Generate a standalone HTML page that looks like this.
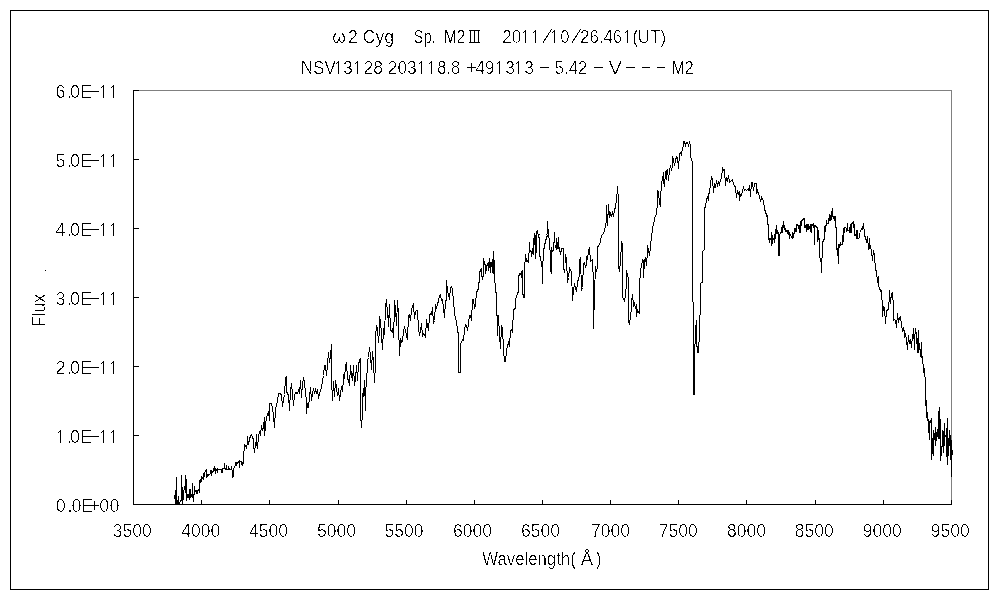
<!DOCTYPE html>
<html><head><meta charset="utf-8"><title>Spectrum</title>
<style>
html,body{margin:0;padding:0;background:#fff;}
body{width:1000px;height:600px;overflow:hidden;font-family:"Liberation Sans",sans-serif;}
svg{display:block;}
svg text{font-family:"Liberation Sans",sans-serif;font-size:18px;fill:#000;stroke:#fff;stroke-width:0.15px;}
</style></head><body>
<svg width="1000" height="600" viewBox="0 0 1000 600">
<rect x="0" y="0" width="1000" height="600" fill="#fff"/>
<g shape-rendering="crispEdges" fill="none" stroke-width="1">
<rect x="10.5" y="10.5" width="978" height="579" stroke="#000"/>
<path d="M133 90.5H951.5V504" stroke="#808080"/>
<path d="M133.5 90V504.5H952" stroke="#000"/>
<path d="M133 435.5H139M133 366.5H139M133 297.5H139M133 228.5H139M133 159.5H139M133 90.5H139M201.5 500V504M269.5 500V504M338.5 500V504M406.5 500V504M474.5 500V504M542.5 500V504M610.5 500V504M678.5 500V504M746.5 500V504M815.5 500V504M883.5 500V504M951.5 500V504" stroke="#000"/>
</g>
<clipPath id="cp"><path clip-rule="evenodd" d="M0 0H1000V600H0ZM465 235H565V295H465ZM760 215H860V275H760Z"/></clipPath>
<polyline clip-path="url(#cp)" shape-rendering="crispEdges" fill="none" stroke="#000" stroke-width="1" stroke-linejoin="miter" points="243.5,457.5 244.5,444.5 245.5,445.5 246.5,448.5 247.5,441.5 247.5,436.5 248.5,444.5 249.5,439.5 250.5,435.5 251.5,434.5 252.5,437.5 253.5,439.5 253.5,445.5 254.5,452.5 255.5,443.5 256.5,445.5 256.5,434.5 257.5,448.5 258.5,436.5 259.5,431.5 260.5,432.5 260.5,435.5 261.5,425.5 262.5,430.5 263.5,426.5 263.5,427.5 264.5,417.5 264.5,435.5 265.5,426.5 266.5,416.5 267.5,415.5 268.5,411.5 269.5,420.5 269.5,403.5 271.5,403.5 272.5,408.5 273.5,415.5 274.5,427.5 275.5,408.5 276.5,405.5 277.5,400.5 278.5,393.5 280.5,393.5 281.5,395.5 282.5,406.5 283.5,400.5 284.5,394.5 285.5,378.5 286.5,376.5 286.5,391.5 288.5,395.5 289.5,410.5 290.5,390.5 291.5,383.5 293.5,405.5 294.5,395.5 295.5,392.5 297.5,393.5 298.5,390.5 299.5,393.5 300.5,380.5 301.5,397.5 302.5,383.5 303.5,378.5 304.5,381.5 305.5,393.5 306.5,400.5 306.5,413.5 307.5,403.5 308.5,407.5 309.5,396.5 310.5,387.5 311.5,400.5 313.5,388.5 314.5,393.5 315.5,389.5 316.5,392.5 317.5,389.5 318.5,398.5 319.5,393.5 320.5,390.5 321.5,387.5 322.5,380.5 323.5,375.5 324.5,365.5 325.5,365.5 326.5,375.5 327.5,364.5 328.5,352.5 329.5,362.5 330.5,355.5 331.5,344.5 331.5,378.5 332.5,400.5 333.5,381.5 334.5,396.5 335.5,380.5 336.5,387.5 337.5,395.5 338.5,388.5 339.5,400.5 340.5,393.5 341.5,386.5 342.5,391.5 343.5,378.5 343.5,374.5 344.5,378.5 345.5,365.5 346.5,363.5 347.5,378.5 348.5,380.5 349.5,385.5 350.5,365.5 351.5,375.5 352.5,380.5 353.5,365.5 354.5,385.5 355.5,378.5 356.5,365.5 357.5,380.5 358.5,364.5 359.5,360.5 360.5,358.5 360.5,413.5 361.5,427.5 362.5,413.5 362.5,393.5 363.5,395.5 364.5,380.5 365.5,410.5 365.5,387.5 366.5,386.5 367.5,360.5 368.5,357.5 369.5,347.5 370.5,355.5 371.5,369.5 372.5,351.5 373.5,362.5 374.5,382.5 375.5,363.5 375.5,336.5 376.5,325.5 377.5,328.5 378.5,342.5 379.5,330.5 379.5,316.5 380.5,320.5 381.5,335.5 382.5,349.5 383.5,328.5 384.5,334.5 385.5,307.5 386.5,299.5 387.5,314.5 388.5,321.5 388.5,326.5 389.5,304.5 390.5,330.5 391.5,331.5 392.5,328.5 393.5,337.5 394.5,307.5 394.5,300.5 395.5,308.5 396.5,325.5 397.5,300.5 398.5,315.5 398.5,324.5 399.5,355.5 400.5,338.5 401.5,342.5 402.5,341.5 403.5,330.5 404.5,327.5 405.5,330.5 406.5,335.5 407.5,339.5 408.5,315.5 409.5,314.5 410.5,320.5 411.5,309.5 412.5,306.5 413.5,304.5 414.5,318.5 415.5,311.5 416.5,310.5 417.5,310.5 418.5,328.5 419.5,335.5 420.5,330.5 421.5,323.5 422.5,335.5 423.5,333.5 424.5,334.5 425.5,337.5 426.5,319.5 427.5,325.5 428.5,330.5 429.5,315.5 430.5,313.5 431.5,314.5 432.5,307.5 433.5,323.5 434.5,320.5 435.5,304.5 436.5,308.5 437.5,303.5 438.5,301.5 439.5,295.5 440.5,294.5 441.5,300.5 442.5,299.5 443.5,307.5 444.5,317.5 445.5,300.5 446.5,300.5 446.5,280.5 447.5,291.5 448.5,294.5 449.5,299.5 450.5,287.5 451.5,286.5 452.5,289.5 453.5,301.5 454.5,311.5 455.5,319.5 456.5,320.5 457.5,331.5 458.5,333.5 458.5,372.5 460.5,372.5 460.5,343.5 461.5,342.5 462.5,339.5 463.5,340.5 464.5,330.5 465.5,324.5 466.5,325.5 467.5,330.5 468.5,323.5 469.5,315.5 470.5,315.5 471.5,320.5 472.5,299.5 473.5,299.5 474.5,308.5 475.5,304.5 476.5,291.5 477.5,290.5 478.5,282.5 479.5,271.5 480.5,269.5 481.5,268.5 482.5,279.5 482.5,273.5 483.5,258.5 484.5,263.5 485.5,273.5 486.5,265.5 487.5,267.5 488.5,262.5 489.5,258.5 490.5,271.5 491.5,261.5 492.5,272.5 493.5,251.5 494.5,273.5 495.5,283.5 496.5,295.5 497.5,335.5 497.5,315.5 498.5,315.5 499.5,335.5 500.5,348.5 501.5,325.5 502.5,328.5 503.5,349.5 504.5,361.5 505.5,361.5 506.5,351.5 507.5,345.5 508.5,342.5 509.5,346.5 510.5,330.5 511.5,329.5 512.5,331.5 513.5,309.5 515.5,308.5 515.5,299.5 516.5,296.5 517.5,291.5 518.5,275.5 519.5,274.5 520.5,273.5 521.5,276.5 522.5,270.5 523.5,297.5 524.5,297.5 524.5,262.5 525.5,254.5 526.5,261.5 527.5,259.5 528.5,262.5 529.5,242.5 530.5,251.5 531.5,250.5 531.5,255.5 532.5,249.5 533.5,237.5 534.5,233.5 535.5,258.5 536.5,231.5 537.5,230.5 538.5,237.5 539.5,235.5 540.5,256.5 541.5,261.5 542.5,283.5 543.5,258.5 544.5,249.5 545.5,243.5 546.5,237.5 547.5,230.5 547.5,221.5 548.5,235.5 549.5,239.5 550.5,251.5 551.5,273.5 551.5,250.5 552.5,250.5 553.5,243.5 554.5,232.5 555.5,247.5 556.5,238.5 557.5,249.5 558.5,237.5 559.5,250.5 560.5,254.5 561.5,248.5 562.5,248.5 563.5,268.5 564.5,272.5 565.5,254.5 566.5,258.5 567.5,282.5 568.5,277.5 569.5,268.5 570.5,270.5 571.5,271.5 572.5,300.5 573.5,290.5 574.5,283.5 575.5,288.5 576.5,291.5 577.5,282.5 578.5,278.5 579.5,275.5 579.5,260.5 580.5,257.5 581.5,290.5 582.5,287.5 583.5,263.5 584.5,262.5 585.5,267.5 586.5,263.5 586.5,256.5 587.5,259.5 588.5,250.5 589.5,248.5 590.5,261.5 591.5,260.5 592.5,259.5 593.5,283.5 593.5,328.5 594.5,293.5 595.5,266.5 596.5,271.5 597.5,266.5 597.5,247.5 598.5,245.5 599.5,244.5 600.5,241.5 601.5,235.5 603.5,233.5 604.5,230.5 605.5,225.5 606.5,220.5 606.5,205.5 607.5,221.5 607.5,225.5 608.5,204.5 609.5,217.5 610.5,213.5 611.5,215.5 612.5,212.5 613.5,216.5 614.5,210.5 615.5,206.5 616.5,199.5 616.5,201.5 617.5,186.5 618.5,201.5 618.5,194.5 618.5,230.5 618.5,266.5 619.5,271.5 620.5,261.5 621.5,242.5 622.5,244.5 622.5,297.5 623.5,298.5 624.5,300.5 625.5,295.5 626.5,283.5 626.5,270.5 627.5,275.5 628.5,278.5 628.5,320.5 629.5,324.5 630.5,316.5 631.5,308.5 631.5,301.5 632.5,294.5 633.5,305.5 634.5,303.5 635.5,308.5 636.5,304.5 636.5,316.5 637.5,309.5 638.5,312.5 639.5,313.5 639.5,288.5 640.5,268.5 641.5,267.5 642.5,259.5 643.5,260.5 643.5,277.5 644.5,260.5 645.5,258.5 646.5,265.5 647.5,251.5 647.5,245.5 648.5,250.5 649.5,255.5 650.5,246.5 651.5,236.5 652.5,230.5 652.5,226.5 653.5,225.5 654.5,218.5 655.5,215.5 656.5,214.5 657.5,201.5 657.5,190.5 658.5,191.5 659.5,203.5 660.5,206.5 660.5,201.5 661.5,181.5 662.5,180.5 663.5,172.5 663.5,180.5 664.5,186.5 665.5,171.5 666.5,179.5 666.5,170.5 667.5,169.5 668.5,180.5 669.5,170.5 670.5,165.5 671.5,170.5 672.5,165.5 672.5,156.5 673.5,160.5 674.5,165.5 675.5,160.5 676.5,156.5 677.5,157.5 678.5,168.5 679.5,153.5 680.5,152.5 681.5,155.5 682.5,147.5 683.5,146.5 683.5,141.5 684.5,141.5 685.5,145.5 686.5,142.5 687.5,142.5 688.5,145.5 689.5,142.5 690.5,145.5 690.5,155.5 691.5,160.5 692.5,161.5 692.5,301.5 693.5,302.5 693.5,394.5 694.5,394.5 694.5,344.5 695.5,343.5 695.5,329.5 696.5,320.5 696.5,346.5 697.5,346.5 697.5,352.5 698.5,352.5 698.5,342.5 699.5,341.5 699.5,315.5 700.5,314.5 700.5,283.5 701.5,282.5 702.5,282.5 702.5,251.5 703.5,250.5 704.5,249.5 704.5,230.5 704.5,208.5 705.5,206.5 706.5,200.5 707.5,196.5 708.5,200.5 708.5,193.5 709.5,193.5 710.5,183.5 711.5,177.5 712.5,179.5 713.5,192.5 714.5,183.5 715.5,187.5 716.5,180.5 717.5,185.5 718.5,182.5 719.5,184.5 720.5,179.5 721.5,178.5 722.5,168.5 723.5,170.5 724.5,169.5 725.5,185.5 726.5,177.5 727.5,180.5 728.5,175.5 729.5,182.5 730.5,181.5 731.5,180.5 732.5,179.5 733.5,184.5 734.5,185.5 735.5,187.5 736.5,197.5 737.5,190.5 738.5,193.5 739.5,191.5 739.5,200.5 740.5,194.5 741.5,195.5 742.5,190.5 743.5,187.5 744.5,190.5 745.5,189.5 746.5,190.5 747.5,189.5 748.5,190.5 749.5,185.5 750.5,196.5 751.5,182.5 752.5,182.5 753.5,190.5 754.5,183.5 755.5,183.5 756.5,183.5 756.5,193.5 757.5,190.5 758.5,194.5 759.5,195.5 760.5,201.5 761.5,197.5 762.5,199.5 763.5,200.5 764.5,209.5 765.5,211.5 766.5,215.5 767.5,217.5 768.5,225.5 769.5,240.5 770.5,242.5 771.5,232.5 771.5,245.5 772.5,233.5 773.5,243.5 774.5,240.5 775.5,230.5 776.5,225.5 777.5,231.5 778.5,235.5 778.5,256.5 779.5,256.5 779.5,233.5 780.5,232.5 781.5,226.5 782.5,229.5 783.5,221.5 784.5,226.5 785.5,228.5 786.5,231.5 787.5,230.5 788.5,235.5 789.5,233.5 790.5,238.5 791.5,232.5 792.5,237.5 793.5,235.5 794.5,230.5 795.5,228.5 796.5,231.5 797.5,225.5 798.5,224.5 799.5,226.5 800.5,232.5 801.5,221.5 802.5,220.5 803.5,218.5 804.5,218.5 805.5,225.5 806.5,225.5 806.5,231.5 807.5,225.5 808.5,228.5 809.5,224.5 810.5,231.5 811.5,224.5 812.5,223.5 813.5,224.5 814.5,245.5 815.5,225.5 816.5,226.5 817.5,242.5 818.5,238.5 819.5,240.5 820.5,241.5 820.5,258.5 821.5,258.5 821.5,272.5 822.5,258.5 822.5,242.5 822.5,240.5 823.5,236.5 824.5,227.5 825.5,225.5 826.5,220.5 827.5,223.5 828.5,219.5 829.5,214.5 830.5,220.5 831.5,213.5 832.5,208.5 833.5,220.5 834.5,215.5 835.5,216.5 836.5,226.5 836.5,233.5 837.5,250.5 838.5,250.5 838.5,263.5 838.5,246.5 839.5,245.5 840.5,242.5 841.5,243.5 842.5,237.5 843.5,229.5 844.5,227.5 845.5,228.5 846.5,230.5 847.5,223.5 848.5,231.5 849.5,224.5 850.5,232.5 851.5,222.5 852.5,223.5 853.5,221.5 854.5,235.5 855.5,230.5 856.5,238.5 857.5,230.5 858.5,238.5 859.5,230.5 860.5,231.5 861.5,228.5 862.5,229.5 863.5,223.5 864.5,234.5 865.5,238.5 866.5,241.5 867.5,236.5 868.5,249.5 869.5,238.5 869.5,248.5 870.5,245.5 871.5,251.5 872.5,260.5 873.5,250.5 874.5,255.5 875.5,270.5 876.5,270.5 877.5,282.5 878.5,276.5 878.5,286.5 879.5,287.5 880.5,291.5 881.5,290.5 882.5,308.5 882.5,316.5 883.5,306.5 884.5,307.5 885.5,323.5 886.5,310.5 887.5,310.5 888.5,308.5 889.5,295.5 889.5,290.5 890.5,303.5 891.5,293.5 892.5,292.5 893.5,306.5 893.5,320.5 894.5,319.5 895.5,320.5 896.5,327.5 897.5,313.5 898.5,322.5 899.5,317.5 900.5,316.5 901.5,325.5 902.5,330.5 903.5,327.5 904.5,333.5 904.5,337.5 905.5,334.5 906.5,339.5 907.5,349.5 908.5,335.5 909.5,343.5 910.5,339.5 911.5,347.5 912.5,335.5 913.5,337.5 913.5,328.5 914.5,349.5 914.5,340.5 915.5,328.5 916.5,335.5 917.5,352.5 917.5,345.5 918.5,330.5 918.5,352.5 919.5,343.5 920.5,356.5 921.5,342.5 921.5,357.5 922.5,356.5 923.5,371.5 924.5,369.5 925.5,383.5 925.5,405.5"/>
<path shape-rendering="crispEdges" fill="none" stroke="#000" stroke-width="1" d="M476.5 291V295M477.5 289V292M478.5 282V290M479.5 271V283M480.5 269V272M481.5 268V277M482.5 276V280M483.5 258V277M484.5 261V265M485.5 264V274M486.5 265V271M487.5 263V266M488.5 262V271M489.5 258V268M490.5 262V273M491.5 262V267M492.5 259V273M493.5 251V274M494.5 260V283M495.5 283V293M496.5 292V295M517.5 292V295M518.5 275V293M519.5 273V276M520.5 273V275M521.5 271V278M522.5 270V295M523.5 294V295M524.5 262V295M525.5 254V262M526.5 258V262M527.5 260V262M528.5 253V263M529.5 242V253M530.5 250V252M531.5 251V257M532.5 248V254M533.5 238V255M534.5 235V245M535.5 235V259M536.5 235V253M538.5 235V238M539.5 237V257M540.5 256V261M541.5 261V267M542.5 261V284M543.5 248V261M544.5 243V249M545.5 239V244M546.5 236V240M547.5 235V237M548.5 235V238M549.5 238V250M550.5 250V272M551.5 247V274M552.5 250V252M553.5 242V251M554.5 235V243M555.5 245V248M556.5 238V250M557.5 242V249M558.5 237V249M559.5 247V252M560.5 251V255M561.5 248V252M562.5 248V249M563.5 248V270M564.5 269V273M766.5 215V217M767.5 215V225M768.5 224V240M769.5 238V243M770.5 238V240M771.5 232V246M772.5 235V244M773.5 238V240M774.5 234V243M775.5 229V239M776.5 225V234M777.5 230V234M778.5 232V256M779.5 234V256M780.5 232V234M781.5 227V233M782.5 225V233M783.5 221V228M784.5 225V230M785.5 228V232M786.5 230V232M787.5 230V234M788.5 230V235M789.5 232V239M790.5 234V236M791.5 236V238M792.5 232V239M793.5 233V238M794.5 228V234M795.5 228V232M796.5 224V232M797.5 224V226M798.5 225V229M799.5 225V233M800.5 221V233M801.5 220V226M802.5 219V221M803.5 218V220M804.5 218V228M805.5 225V228M806.5 224V232M807.5 224V230M808.5 224V230M809.5 226V229M810.5 224V232M811.5 224V233M812.5 224V226M813.5 223V228M814.5 225V245M815.5 225V227M816.5 226V228M817.5 227V242M818.5 230V240M819.5 238V258M820.5 258V262M821.5 258V273M822.5 241V258M823.5 239V242M824.5 226V240M825.5 225V232M826.5 220V226M827.5 223V224M828.5 218V224M829.5 215V221M830.5 215V221M831.5 215V220M832.5 215V217M833.5 216V219M834.5 216V221M835.5 216V228M836.5 227V250M837.5 248V256M838.5 244V264M839.5 244V248M840.5 242V246M841.5 244V245M842.5 235V245M843.5 228V242M844.5 227V233M845.5 227V228M846.5 228V232M847.5 223V231M848.5 230V231M849.5 227V233M850.5 224V233M851.5 223V233M852.5 222V224M853.5 221V228M854.5 224V236M855.5 234V236M856.5 230V239M857.5 230V239M858.5 238V239M859.5 233V238"/>
<path shape-rendering="crispEdges" fill="none" stroke="#000" stroke-width="1" d="M174.5 495V499M175.5 490V504M176.5 477V504M177.5 500V504M178.5 496V504M179.5 502V504M180.5 500V502M181.5 475V501M182.5 487V504M183.5 490V500M184.5 486V490M185.5 475V493M186.5 479V501M187.5 494V498M188.5 494V498M189.5 489V500M190.5 489V498M191.5 494V497M192.5 483V498M193.5 494V502M194.5 486V495M195.5 490V492M196.5 490V494M197.5 490V494M198.5 489V491M199.5 480V493M200.5 479V483M201.5 476V482M202.5 477V479M203.5 473V480M204.5 472V477M205.5 470V472M206.5 469V478M207.5 474V477M208.5 474V476M209.5 474V475M210.5 470V474M211.5 470V476M212.5 471V473M213.5 468V472M214.5 466V471M215.5 468V474M216.5 469V471M217.5 468V473M218.5 469V470M219.5 469V470M220.5 469V470M221.5 469V473M222.5 468V473M223.5 468V469M224.5 463V469M225.5 468V470M226.5 465V470M227.5 469V470M228.5 466V470M229.5 468V470M230.5 469V470M231.5 466V470M232.5 470V478M233.5 468V477M234.5 466V468M235.5 462V466M236.5 462V466M237.5 462V464M238.5 461V463M239.5 460V468M240.5 461V462M241.5 461V465M242.5 462V466M243.5 457V464M926.5 400V418M927.5 412V421M928.5 419V433M929.5 421V440M930.5 420V423M931.5 418V460M932.5 438V454M933.5 430V456M934.5 433V440M935.5 427V446M936.5 432V441M937.5 429V437M938.5 411V439M939.5 407V439M940.5 419V461M941.5 446V456M942.5 430V447M943.5 431V453M944.5 423V446M945.5 435V437M946.5 428V457M947.5 418V465M948.5 438V456M949.5 430V446M950.5 435V460M951.5 440V477M952.5 450V455"/>
<rect x="45" y="270" width="1" height="1" fill="#000"/>
<defs><filter id="al" x="0" y="0" width="1000" height="600" filterUnits="userSpaceOnUse" color-interpolation-filters="sRGB"><feColorMatrix type="matrix" values="0 0 0 0 0 0 0 0 0 0 0 0 0 0 0 -1 0 0 1 0"/><feComponentTransfer><feFuncA type="discrete" tableValues="0 1"/></feComponentTransfer></filter></defs>
<g filter="url(#al)">
<text x="332.2" y="43.0" textLength="13.6" lengthAdjust="spacingAndGlyphs">ω</text>
<text x="348.0" y="43.0" textLength="10.0" lengthAdjust="spacingAndGlyphs">2</text>
<text x="362.7" y="43.0" textLength="31.4" lengthAdjust="spacingAndGlyphs">Cyg</text>
<text x="413.5" y="43.0" textLength="22.3" lengthAdjust="spacingAndGlyphs">Sp.</text>
<text x="444.0" y="43.0" textLength="21.1" lengthAdjust="spacingAndGlyphs" style="stroke-width:0.05px">M2</text>
<path shape-rendering="crispEdges" d="M469 30.5H480M469 42.5H480M470.5 30V43M474.5 30V43M478.5 30V43" stroke="#000" stroke-width="1" fill="none"/>
<text x="502.2" y="43.0" textLength="19.1" lengthAdjust="spacingAndGlyphs">20</text>
<text x="560.2" y="43.0" textLength="9.3" lengthAdjust="spacingAndGlyphs">0</text>
<path shape-rendering="crispEdges" d="M542.5 43.5L551.5 29.5M571.5 43.5L580.5 29.5" stroke="#000" stroke-width="1" fill="none"/>
<text x="580.1" y="43.0" textLength="42.1" lengthAdjust="spacingAndGlyphs">26.46</text>
<text x="632.2" y="43.0" textLength="33.9" lengthAdjust="spacingAndGlyphs">(UT)</text>
<text x="300.8" y="74.0" textLength="35.0" lengthAdjust="spacingAndGlyphs">NSV</text>
<text x="343.1" y="74.0" textLength="9.7" lengthAdjust="spacingAndGlyphs">3</text>
<text x="363.4" y="74.0" textLength="19.6" lengthAdjust="spacingAndGlyphs">28</text>
<text x="387.8" y="74.0" textLength="29.0" lengthAdjust="spacingAndGlyphs">203</text>
<text x="437.2" y="74.0" textLength="22.9" lengthAdjust="spacingAndGlyphs">8.8</text>
<text x="475.6" y="74.0" textLength="18.7" lengthAdjust="spacingAndGlyphs">49</text>
<path shape-rendering="crispEdges" d="M467 67.5H476M471.5 63V72" stroke="#000" stroke-width="1" fill="none"/>
<text x="505.3" y="74.0" textLength="9.7" lengthAdjust="spacingAndGlyphs">3</text>
<text x="524.2" y="74.0" textLength="9.7" lengthAdjust="spacingAndGlyphs">3</text>
<text x="554.7" y="74.0" textLength="32.7" lengthAdjust="spacingAndGlyphs">5.42</text>
<text x="608.5" y="74.0" textLength="13.6" lengthAdjust="spacingAndGlyphs">V</text>
<text x="671.5" y="74.0" textLength="22.2" lengthAdjust="spacingAndGlyphs" style="stroke-width:0.05px">M2</text>
<path shape-rendering="crispEdges" d="M540 67.5H549M594 67.5H603M626 67.5H635M642 67.5H650M657 67.5H665" stroke="#000" stroke-width="1" fill="none"/>
<text x="55.7 67.4 71.6 80.9 89.2 99.2 109.4" y="512.0">0.0E+00</text>
<text x="66.7 70.0 80.2" y="443.0">.0E</text>
<text x="55.4 66.7 70.0 80.2" y="374.0">2.0E</text>
<text x="55.4 66.7 70.0 80.2" y="305.0">3.0E</text>
<text x="55.4 66.7 70.0 80.2" y="236.0">4.0E</text>
<text x="55.4 66.7 70.0 80.2" y="167.0">5.0E</text>
<text x="55.4 66.7 70.0 80.2" y="98.0">6.0E</text>
<text x="132.3" y="537" text-anchor="middle" textLength="39" lengthAdjust="spacingAndGlyphs">3500</text>
<text x="200.7" y="537" text-anchor="middle" textLength="39" lengthAdjust="spacingAndGlyphs">4000</text>
<text x="268.5" y="537" text-anchor="middle" textLength="39" lengthAdjust="spacingAndGlyphs">4500</text>
<text x="336.4" y="537" text-anchor="middle" textLength="39" lengthAdjust="spacingAndGlyphs">5000</text>
<text x="404.0" y="537" text-anchor="middle" textLength="39" lengthAdjust="spacingAndGlyphs">5500</text>
<text x="472.6" y="537" text-anchor="middle" textLength="39" lengthAdjust="spacingAndGlyphs">6000</text>
<text x="540.4" y="537" text-anchor="middle" textLength="39" lengthAdjust="spacingAndGlyphs">6500</text>
<text x="610.4" y="537" text-anchor="middle" textLength="39" lengthAdjust="spacingAndGlyphs">7000</text>
<text x="678.3" y="537" text-anchor="middle" textLength="39" lengthAdjust="spacingAndGlyphs">7500</text>
<text x="746.4" y="537" text-anchor="middle" textLength="39" lengthAdjust="spacingAndGlyphs">8000</text>
<text x="814.3" y="537" text-anchor="middle" textLength="39" lengthAdjust="spacingAndGlyphs">8500</text>
<text x="882.3" y="537" text-anchor="middle" textLength="39" lengthAdjust="spacingAndGlyphs">9000</text>
<text x="950.3" y="537" text-anchor="middle" textLength="39" lengthAdjust="spacingAndGlyphs">9500</text>
<text x="482.2" y="565.0" textLength="93.6" lengthAdjust="spacingAndGlyphs">Wavelength(</text>
<text x="580.8" y="565.0" textLength="12.4" lengthAdjust="spacingAndGlyphs">Å</text>
<text x="596.2" y="565.0" textLength="5.2" lengthAdjust="spacingAndGlyphs">)</text>
<text transform="translate(45.2,327) rotate(-90)" x="0" y="0" textLength="33" lengthAdjust="spacingAndGlyphs" style="stroke-width:0.1">Flux</text>
</g>
<path shape-rendering="crispEdges" fill="none" stroke="#000" stroke-width="1" d="M60.5 430V443 M59 431.5h1 M58 432.5h1M89 436.5H99M103.5 430V443 M102 431.5h1 M101 432.5h1M113.5 430V443 M112 431.5h1 M111 432.5h1M89 367.5H99M103.5 361V374 M102 362.5h1 M101 363.5h1M113.5 361V374 M112 362.5h1 M111 363.5h1M89 298.5H99M103.5 292V305 M102 293.5h1 M101 294.5h1M113.5 292V305 M112 293.5h1 M111 294.5h1M89 229.5H99M103.5 223V236 M102 224.5h1 M101 225.5h1M113.5 223V236 M112 224.5h1 M111 225.5h1M89 160.5H99M103.5 154V167 M102 155.5h1 M101 156.5h1M113.5 154V167 M112 155.5h1 M111 156.5h1M89 91.5H99M103.5 85V98 M102 86.5h1 M101 87.5h1M113.5 85V98 M112 86.5h1 M111 87.5h1M525.5 30V43 M524 31.5h1 M523 32.5h1M535.5 30V43 M534 31.5h1 M533 32.5h1M554.5 30V43 M553 31.5h1 M552 32.5h1M627.5 30V43 M626 31.5h1 M625 32.5h1M338.5 61V74 M337 62.5h1 M336 63.5h1M357.5 61V74 M356 62.5h1 M355 63.5h1M421.5 61V74 M420 62.5h1 M419 63.5h1M431.5 61V74 M430 62.5h1 M429 63.5h1M499.5 61V74 M498 62.5h1 M497 63.5h1M518.5 61V74 M517 62.5h1 M516 63.5h1"/>
</svg>
</body></html>
